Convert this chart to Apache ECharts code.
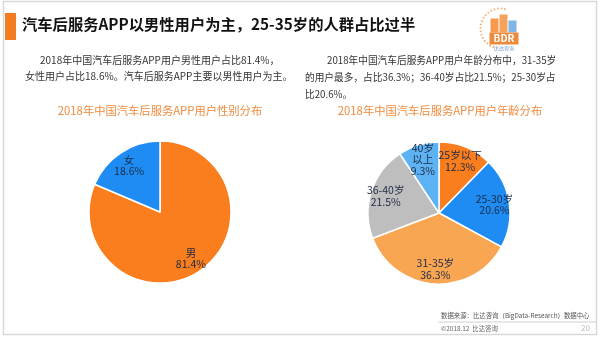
<!DOCTYPE html>
<html>
<head>
<meta charset="utf-8">
<script src="https://cdn.jsdelivr.net/npm/echarts@6/dist/echarts.min.js"></script>
<style>
  html, body { margin: 0; padding: 0; background: #fff; }
  #chart { width: 600px; height: 338px; }
</style>
</head>
<body>
<div id="chart"></div>
<script>
// Gender split of auto after-service APP users (2018)
const genderNames = ['男', '女'];
const genderValues = [81.4, 18.6];
const genderColors = ['#FA7E1E', '#1E8CF2'];

// Age split of auto after-service APP users (2018)
const ageNames = ['25岁以下', '25-30岁', '31-35岁', '36-40岁', '40岁以上'];
const ageLabels = ['25岁以下', '25-30岁', '31-35岁', '36-40岁', '40岁\n以上'];
const ageValues = [12.3, 20.6, 36.3, 21.5, 9.3];
const ageColors = ['#FA7E1E', '#1E8CF2', '#F9A653', '#BEBEBE', '#5CB2F2'];

const FONT = '"Noto Sans CJK SC", "Noto Sans", sans-serif';
const LABEL_COLOR = '#1d2a44';

function pieData(names, values, colors) {
  return names.map((n, i) => ({ name: n, value: values[i], itemStyle: { color: colors[i] } }));
}
function labelData(names, values, labels) {
  return names.map((n, i) => ({ name: n, value: values[i], labelText: labels[i] }));
}

function pieSeries(center, data) {
  return {
    type: 'pie', center: center, radius: [0, 71], startAngle: 90, clockwise: true,
    silent: true, label: { show: false }, labelLine: { show: false },
    itemStyle: { borderColor: '#ffffff', borderWidth: 1.5 },
    data: data
  };
}
// transparent ring carrying the labels at 3/4 of the radius
function labelSeries(center, data) {
  return {
    type: 'pie', center: center, radius: [35, 71], startAngle: 90, clockwise: true,
    silent: true, avoidLabelOverlap: false,
    itemStyle: { color: 'rgba(0,0,0,0)' },
    labelLine: { show: false },
    label: {
      show: true, position: 'inside', color: LABEL_COLOR, fontFamily: FONT,
      fontSize: 10.5, lineHeight: 11.5,
      formatter: p => p.data.labelText + '\n' + p.value.toFixed(1) + '%'
    },
    data: data
  };
}

const chart = echarts.init(document.getElementById('chart'), null, { renderer: 'canvas' });

const textBase = { fontFamily: FONT, fill: '#333333', fontSize: 10 };
const textRight = { fontFamily: FONT, fill: '#333333', fontSize: 9.7 };

chart.setOption({
  animation: false,
  backgroundColor: '#ffffff',
  series: [
    pieSeries([160, 212], pieData(genderNames, genderValues, genderColors)),
    labelSeries([160, 212], labelData(genderNames, genderValues, genderNames)),
    pieSeries([439, 213], pieData(ageNames, ageValues, ageColors)),
    labelSeries([439, 213], labelData(ageNames, ageValues, ageLabels))
  ],
  graphic: [
    // slide frame
    { type: 'rect', shape: { x: 3.5, y: 1.5, width: 593, height: 333 }, style: { fill: 'none', stroke: '#d8d8d8', lineWidth: 1.5 }, z: 0 },
    // header
    { type: 'rect', shape: { x: 5, y: 13, width: 11, height: 27 }, style: { fill: '#F47C20' } },
    { type: 'text', left: 22, top: 17, style: { text: '汽车后服务APP以男性用户为主，25-35岁的人群占比过半', font: 'bold 15.3px ' + FONT, fill: '#111111' } },
    // logo
    { type: 'group', left: 478, top: 6, children: [
      { type: 'arc', shape: { cx: 22, cy: 22, r: 20, startAngle: Math.PI * 0.55, endAngle: Math.PI * 1.6 }, style: { fill: 'none', stroke: '#F7B27A', lineWidth: 2, lineDash: [1.5, 2] } },
      { type: 'rect', shape: { x: 12, y: 12, width: 8, height: 14 }, style: { fill: '#F79A4C' } },
      { type: 'rect', shape: { x: 21, y: 8, width: 8, height: 18 }, style: { fill: '#F5A25A' } },
      { type: 'rect', shape: { x: 30, y: 14, width: 8, height: 12 }, style: { fill: '#7FB6E6' } },
      { type: 'rect', shape: { x: 11, y: 26, width: 29, height: 12 }, style: { fill: '#EE8A3C' } },
      { type: 'text', x: 25.5, y: 32, style: { text: 'BDR', font: 'bold 10px ' + FONT, fill: '#ffffff', textAlign: 'center', textVerticalAlign: 'middle' } },
      { type: 'text', x: 25.5, y: 42, style: { text: '比达咨询', font: '5px ' + FONT, fill: '#6a9fd0', textAlign: 'center', textVerticalAlign: 'middle' } }
    ] },
    // left description
    { type: 'text', left: 40, top: 55, style: Object.assign({}, textBase, { text: '2018年中国汽车后服务APP用户男性用户占比81.4%，' }) },
    { type: 'text', left: 25, top: 71, style: Object.assign({}, textBase, { text: '女性用户占比18.6%。汽车后服务APP主要以男性用户为主。' }) },
    // right description
    { type: 'text', left: 327, top: 55, style: Object.assign({}, textRight, { text: '2018年中国汽车后服务APP用户年龄分布中，31-35岁' }) },
    { type: 'text', left: 305, top: 72, style: Object.assign({}, textRight, { text: '的用户最多，占比36.3%；36-40岁占比21.5%；25-30岁占' }) },
    { type: 'text', left: 305, top: 89, style: Object.assign({}, textRight, { text: '比20.6%。' }) },
    // chart titles
    { type: 'text', x: 160, y: 111, style: { text: '2018年中国汽车后服务APP用户性别分布', font: '11.3px ' + FONT, fill: '#EF8A3E', textAlign: 'center', textVerticalAlign: 'middle' } },
    { type: 'text', x: 440, y: 111, style: { text: '2018年中国汽车后服务APP用户年龄分布', font: '11.3px ' + FONT, fill: '#EF8A3E', textAlign: 'center', textVerticalAlign: 'middle' } },
    // footer
    { type: 'text', left: 441, top: 312, style: { text: '数据来源：比达咨询（BigData-Research）数据中心', font: '6.4px ' + FONT, fill: '#555555' } },
    { type: 'line', shape: { x1: 438, y1: 322, x2: 596, y2: 322 }, style: { stroke: '#d0d0d0', lineWidth: 1 } },
    { type: 'text', left: 441, top: 325, style: { text: '©2018.12  比达咨询', font: '6.4px ' + FONT, fill: '#666666' } },
    { type: 'text', left: 581, top: 324, style: { text: '20', font: '8px ' + FONT, fill: '#bbbbbb' } }
  ]
});
</script>
</body>
</html>
